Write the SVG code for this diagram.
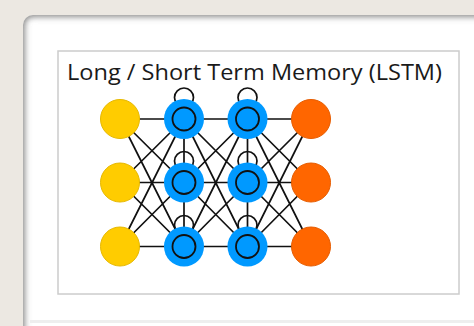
<svg xmlns="http://www.w3.org/2000/svg" width="474" height="326" viewBox="0 0 474 326">
  <defs>
    <clipPath id="cardClip">
      <rect x="23" y="15" width="470" height="330" rx="10"/>
    </clipPath>
    <filter id="soft" x="-10%" y="-10%" width="120%" height="120%">
      <feGaussianBlur stdDeviation="3"/>
    </filter>
    <style>
      .link { stroke: #111; stroke-width: 1.7; fill: none; }
      .loop { stroke: #111; stroke-width: 1.7; fill: none; }
      .in { fill: #FFCC00; stroke: #E6B800; stroke-width: 1; }
      .hid { fill: #0099FF; }
      .ring { fill: none; stroke: #111; stroke-width: 1.8; }
      .out { fill: #FF6600; stroke: #E65C00; stroke-width: 1; }
      .title { font-family: "Open Sans", "Noto Sans", sans-serif; font-size: 21px; fill: #1a1a1a; }
    </style>
  </defs>

  <!-- paper background -->
  <rect width="474" height="326" fill="#ECE8E2"/>

  <!-- card with inset shadow along the top and left edges -->
  <rect x="23" y="15" width="470" height="330" rx="10" fill="#ffffff"/>
  <g clip-path="url(#cardClip)">
    <rect x="21" y="13" width="480" height="340" rx="12" fill="none" stroke="#7a7a7a" stroke-width="7" filter="url(#soft)"/>
  </g>
  <!-- faint edge near the bottom of the card -->
  <rect x="30" y="320" width="444" height="3" fill="#eeeeee"/>

  <!-- frame -->
  <rect x="58" y="51" width="401" height="243" fill="#ffffff" stroke="#cccccc" stroke-width="1.5"/>

  <text class="title" x="67" y="80" textLength="375" lengthAdjust="spacingAndGlyphs">Long / Short Term Memory (LSTM)</text>

  <!-- connectors -->
  <g id="connectors">
    <!-- input to hidden layer 1 -->
    <path class="link" d="M120 119L184 119M120 119L184 182.5M120 119L184 246.5M120 182.5L184 119M120 182.5L184 182.5M120 182.5L184 246.5M120 246.5L184 119M120 246.5L184 182.5M120 246.5L184 246.5"/>
    <!-- hidden layer 1 to hidden layer 2 -->
    <path class="link" d="M184 119L247.5 119M184 119L247.5 182.5M184 119L247.5 246.5M184 182.5L247.5 119M184 182.5L247.5 182.5M184 182.5L247.5 246.5M184 246.5L247.5 119M184 246.5L247.5 182.5M184 246.5L247.5 246.5"/>
    <!-- hidden layer 2 to output -->
    <path class="link" d="M247.5 119L311 119M247.5 119L311 182.5M247.5 119L311 246.5M247.5 182.5L311 119M247.5 182.5L311 182.5M247.5 182.5L311 246.5M247.5 246.5L311 119M247.5 246.5L311 182.5M247.5 246.5L311 246.5"/>
    <!-- vertical links inside hidden columns -->
    <path class="link" d="M184 119L184 246.5M247.5 119L247.5 246.5"/>
    <!-- self loops -->
    <circle class="loop" cx="184" cy="97.5" r="9.5"/>
    <circle class="loop" cx="247.5" cy="97.5" r="9.5"/>
    <circle class="loop" cx="184" cy="161" r="9.5"/>
    <circle class="loop" cx="247.5" cy="161" r="9.5"/>
    <circle class="loop" cx="184" cy="225" r="9.5"/>
    <circle class="loop" cx="247.5" cy="225" r="9.5"/>
  </g>

  <!-- input layer -->
  <g id="in1"><circle class="in" cx="120" cy="119" r="19.5"/></g>
  <g id="in2"><circle class="in" cx="120" cy="182.5" r="19.5"/></g>
  <g id="in3"><circle class="in" cx="120" cy="246.5" r="19.5"/></g>

  <!-- hidden layer 1 -->
  <g id="h1a"><circle class="hid" cx="184" cy="119" r="20"/><circle class="ring" cx="184" cy="119" r="11.5"/></g>
  <g id="h1b"><circle class="hid" cx="184" cy="182.5" r="20"/><circle class="ring" cx="184" cy="182.5" r="11.5"/></g>
  <g id="h1c"><circle class="hid" cx="184" cy="246.5" r="20"/><circle class="ring" cx="184" cy="246.5" r="11.5"/></g>

  <!-- hidden layer 2 -->
  <g id="h2a"><circle class="hid" cx="247.5" cy="119" r="20"/><circle class="ring" cx="247.5" cy="119" r="11.5"/></g>
  <g id="h2b"><circle class="hid" cx="247.5" cy="182.5" r="20"/><circle class="ring" cx="247.5" cy="182.5" r="11.5"/></g>
  <g id="h2c"><circle class="hid" cx="247.5" cy="246.5" r="20"/><circle class="ring" cx="247.5" cy="246.5" r="11.5"/></g>

  <!-- output layer -->
  <g id="out1"><circle class="out" cx="311" cy="119" r="19.5"/></g>
  <g id="out2"><circle class="out" cx="311" cy="182.5" r="19.5"/></g>
  <g id="out3"><circle class="out" cx="311" cy="246.5" r="19.5"/></g>
</svg>
